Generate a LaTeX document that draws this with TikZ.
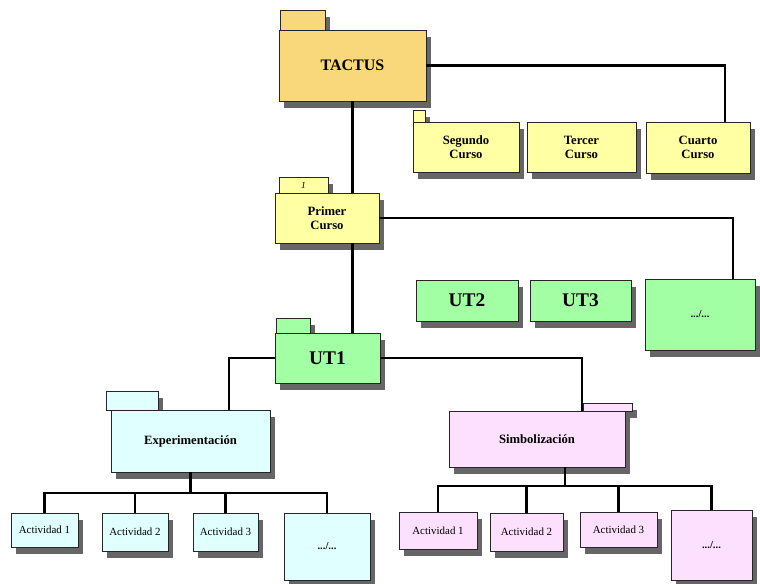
\documentclass[tikz,border=0pt]{standalone}
\usepackage{fontspec}
\setmainfont{Liberation Serif}
\usepackage{tikz}
\usetikzlibrary{shadows}
\definecolor{tactusorange}{HTML}{F9D87C}
\definecolor{cursoyellow}{HTML}{FFFFA3}
\definecolor{utgreen}{HTML}{A3FFA3}
\definecolor{expcyan}{HTML}{E0FFFF}
\definecolor{simbpink}{HTML}{FDE0FD}
\tikzset{every picture/.style={line width=0.75pt}}
\tikzset{
  box/.style={draw=black!85, line width=0.6pt, inner sep=0pt, align=center,
    drop shadow={shadow xshift=4pt, shadow yshift=-5pt, opacity=0.6, fill=black}},
  tabbox/.style={box, font=\itshape\fontsize{7}{7}\selectfont},
  link/.style={line width=1.6pt, black},
  actfont/.style={font=\fontsize{8.2}{9}\selectfont},
}

\begin{document}
\begin{tikzpicture}[x=0.75pt,y=0.75pt,yscale=-1,xscale=1]
		\useasboundingbox (0,0) rectangle (760,584); %set diagram to the 760 x 584 page
		
		%Shape: Rectangle [tab of TACTUS] 
		\node [tabbox, fill=tactusorange, minimum width=33.75pt, minimum height=15pt] (tactustab) at (302.5,20) {};
		%Shape: Rectangle [TACTUS] 
		\node [box, fill=tactusorange, minimum width=110.25pt, minimum height=53.25pt, font=\bfseries\fontsize{12}{14}\selectfont] (tactus) at (352.5,65.5) {TACTUS};
		
		%Shape: Rectangle [tab of Segundo Curso] 
		\node [tabbox, fill=cursoyellow, minimum width=9pt, minimum height=9pt] (segundotab) at (419,116) {};
		%Shape: Rectangle 
		\node [box, fill=cursoyellow, minimum width=79.5pt, minimum height=37.5pt, font=\bfseries\fontsize{9.5}{10.5}\selectfont] (segundo) at (466,147) {Segundo\\Curso};
		%Shape: Rectangle 
		\node [box, fill=cursoyellow, minimum width=81.75pt, minimum height=37.5pt, font=\bfseries\fontsize{9.5}{10.5}\selectfont] (tercer) at (581.5,147) {Tercer\\Curso};
		%Shape: Rectangle 
		\node [box, fill=cursoyellow, minimum width=78pt, minimum height=38.25pt, font=\bfseries\fontsize{9.5}{10.5}\selectfont] (cuarto) at (698,147.5) {Cuarto\\Curso};
		
		%Shape: Rectangle [tab of Primer Curso] 
		\node [tabbox, fill=cursoyellow, minimum width=36.75pt, minimum height=12pt] (primertab) at (303.5,185) {1};
		%Shape: Rectangle 
		\node [box, fill=cursoyellow, minimum width=78pt, minimum height=37.5pt, font=\bfseries\fontsize{9.5}{10.5}\selectfont] (primer) at (327,218) {Primer\\Curso};
		
		%Shape: Rectangle 
		\node [box, fill=utgreen, minimum width=76.5pt, minimum height=30.75pt, font=\bfseries\fontsize{14.5}{16}\selectfont] (ut2) at (467,300.5) {UT2};
		%Shape: Rectangle 
		\node [box, fill=utgreen, minimum width=75.75pt, minimum height=30.75pt, font=\bfseries\fontsize{14.5}{16}\selectfont] (ut3) at (580.5,300.5) {UT3};
		%Shape: Rectangle 
		\node [box, fill=utgreen, minimum width=82.5pt, minimum height=53.25pt, font=\bfseries\fontsize{8}{9}\selectfont] (utmore) at (700,314.5) {.../...};
		
		%Shape: Rectangle [tab of UT1] 
		\node [tabbox, fill=utgreen, minimum width=25.5pt, minimum height=11.25pt] (ut1tab) at (293,325.5) {};
		%Shape: Rectangle 
		\node [box, fill=utgreen, minimum width=78.75pt, minimum height=37.5pt, font=\bfseries\fontsize{14.5}{16}\selectfont] (ut1) at (327.5,358) {UT1};
		
		%Shape: Rectangle [tab of Experimentacion] 
		\node [tabbox, fill=expcyan, minimum width=39pt, minimum height=14.25pt] (exptab) at (132,400.5) {};
		%Shape: Rectangle 
		\node [box, fill=expcyan, minimum width=119.25pt, minimum height=46.5pt, font=\bfseries\fontsize{9.5}{10.5}\selectfont] (exp) at (190.5,441) {Experimentación};
		
		%Shape: Rectangle [tab of Simbolizacion] 
		\node [tabbox, fill=simbpink, minimum width=36.75pt, minimum height=6pt] (simbtab) at (607.5,407) {};
		%Shape: Rectangle 
		\node [box, fill=simbpink, minimum width=132pt, minimum height=42pt, font=\bfseries\fontsize{9.5}{10.5}\selectfont] (simb) at (537,439) {Simbolización};
		
		%Shapes: Rectangles [activities of Experimentacion] 
		\node [box, actfont, fill=expcyan, minimum width=50.25pt, minimum height=25.5pt] (a1) at (44.5,530) {Actividad 1};
		\node [box, actfont, fill=expcyan, minimum width=49.5pt, minimum height=28.5pt] (a2) at (135,532) {Actividad 2};
		\node [box, actfont, fill=expcyan, minimum width=48.75pt, minimum height=28.5pt] (a3) at (225.5,532) {Actividad 3};
		\node [box, fill=expcyan, minimum width=64.5pt, minimum height=50.25pt, font=\bfseries\fontsize{8}{9}\selectfont] (a4) at (327,546.5) {.../...};
		
		%Shapes: Rectangles [activities of Simbolizacion] 
		\node [box, actfont, fill=simbpink, minimum width=58.5pt, minimum height=27.75pt] (b1) at (438,530.5) {Actividad 1};
		\node [box, actfont, fill=simbpink, minimum width=54.75pt, minimum height=28.5pt] (b2) at (526.5,532) {Actividad 2};
		\node [box, actfont, fill=simbpink, minimum width=57.75pt, minimum height=26.25pt] (b3) at (618.5,529.5) {Actividad 3};
		\node [box, fill=simbpink, minimum width=60.75pt, minimum height=52.5pt, font=\bfseries\fontsize{8}{9}\selectfont] (b4) at (711.5,545) {.../...};
		
		%Free ends of the connectors 
		\coordinate (cuartoin) at (725,122);
		\coordinate (utmorein) at (733,279);
		\coordinate (expin) at (229,410);
		\coordinate (simbin) at (582,411);
		\coordinate (expbus) at (190.5,493);
		\coordinate (simbbus) at (565,486);
		
		%Straight Lines [connectors] 
		\draw [link] (tactus.east) -| (cuartoin);
		\draw [link] (tactus.south) -- (tactus.south |- primer.north);
		\draw [link] (primer.east) -| (utmorein);
		\draw [link] (tactus.south |- primer.south) -- (tactus.south |- ut1.north);
		\draw [link] (ut1.west) -| (expin);
		\draw [link] (ut1.east) -| (simbin);
		
		%Straight Lines [activities] 
		\draw [link] (exp.south) -- (expbus);
		\draw [link] (simbbus |- simb.south) -- (simbbus);
		\foreach \act in {a1,a2,a3,a4}
		\draw [link] (expbus) -| (\act.north);
		\foreach \act in {b1,b2,b3,b4}
		\draw [link] (simbbus) -| (\act.north);
		
		
		\end{tikzpicture}
\end{document}
